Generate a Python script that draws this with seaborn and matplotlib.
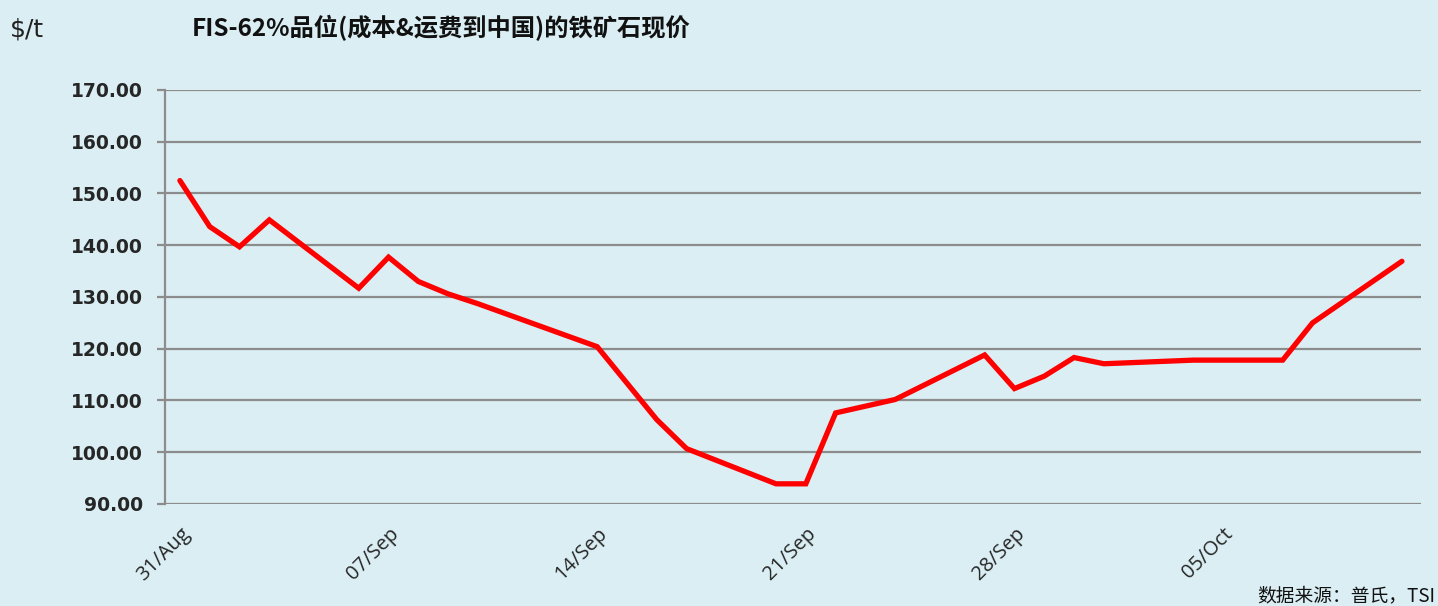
import pandas as pd
import matplotlib
matplotlib.use("Agg")
import matplotlib.pyplot as plt
import matplotlib.dates as mdates
import seaborn as sns

# FIS 62% Fe CFR China spot price
dates = ["2015-08-31", "2015-09-01", "2015-09-02", "2015-09-03", "2015-09-06",
         "2015-09-07", "2015-09-08", "2015-09-09", "2015-09-10", "2015-09-14",
         "2015-09-16", "2015-09-17", "2015-09-20", "2015-09-21", "2015-09-22",
         "2015-09-24", "2015-09-27", "2015-09-28", "2015-09-29", "2015-09-30",
         "2015-10-01", "2015-10-04", "2015-10-07", "2015-10-08", "2015-10-11"]
prices = [152.5, 143.6, 139.7, 144.9, 131.7,
          137.7, 133.0, 130.6, 128.7, 120.4,
          106.3, 100.7, 93.9, 93.9, 107.6,
          110.2, 118.8, 112.3, 114.7, 118.3,
          117.1, 117.8, 117.8, 125.0, 136.9]
y_ticks = [90, 100, 110, 120, 130, 140, 150, 160, 170]
x_tick_dates = ["2015-08-31", "2015-09-07", "2015-09-14", "2015-09-21", "2015-09-28", "2015-10-05"]

title = "FIS-62%品位(成本&运费到中国)的铁矿石现价"
unit = "$/t"
source = "数据来源：普氏，TSI"

bg = "#DAEEF3"
grid_c = "#8C8C8C"

sns.set_style("white")
plt.rcParams["font.family"] = ["Noto Sans CJK SC", "DejaVu Sans"]

df = pd.DataFrame({"date": pd.to_datetime(dates), "price": prices})

fig = plt.figure(figsize=(14.38, 6.06), dpi=100, facecolor=bg)
ax = fig.add_axes([165 / 1438, 1 - 504 / 606, (1421 - 165) / 1438, (504 - 90) / 606])
ax.set_facecolor(bg)

sns.lineplot(data=df, x="date", y="price", ax=ax, color="#FF0000", linewidth=3.8,
             solid_joinstyle="miter", zorder=3)

start = pd.Timestamp("2015-08-31")
ax.set_xlim(start - pd.Timedelta(hours=12), start + pd.Timedelta(days=41.64))
ax.set_ylim(90, 170)
ax.set_yticks(y_ticks)
ax.set_yticklabels([f"{v:.2f}" for v in y_ticks], fontsize=13.5, fontweight="bold",
                   family="DejaVu Sans")
ax.set_xticks(pd.to_datetime(x_tick_dates))
ax.xaxis.set_major_formatter(mdates.DateFormatter("%d/%b"))
plt.setp(ax.get_xticklabels(), rotation=45, ha="right", rotation_mode="anchor",
         fontsize=14.5, family="Open Sans")

ax.grid(axis="y", color=grid_c, linewidth=1.6, zorder=1)
ax.grid(axis="x", visible=False)
for s in ["top", "right", "bottom"]:
    ax.spines[s].set_visible(False)
ax.spines["left"].set_color(grid_c)
ax.spines["left"].set_linewidth(1.6)
ax.tick_params(axis="y", left=True, length=6, width=1.6, color=grid_c, pad=10)
ax.tick_params(axis="x", bottom=False, length=0, pad=14)
ax.set_xlabel("")
ax.set_ylabel("")

fig.text(10 / 1438, 1 - 29 / 606, unit, fontsize=18, va="center", ha="left",
         family="DejaVu Sans", color="#222222")
fig.text(192 / 1438, 1 - 28 / 606, title, fontsize=17.5, fontweight="bold",
         va="center", ha="left", color="#111111")
fig.text(1435 / 1438, 1 - 596 / 606, source, fontsize=13.5, va="center", ha="right",
         color="#111111")

fig.savefig("out.png", dpi=100, facecolor=bg)
